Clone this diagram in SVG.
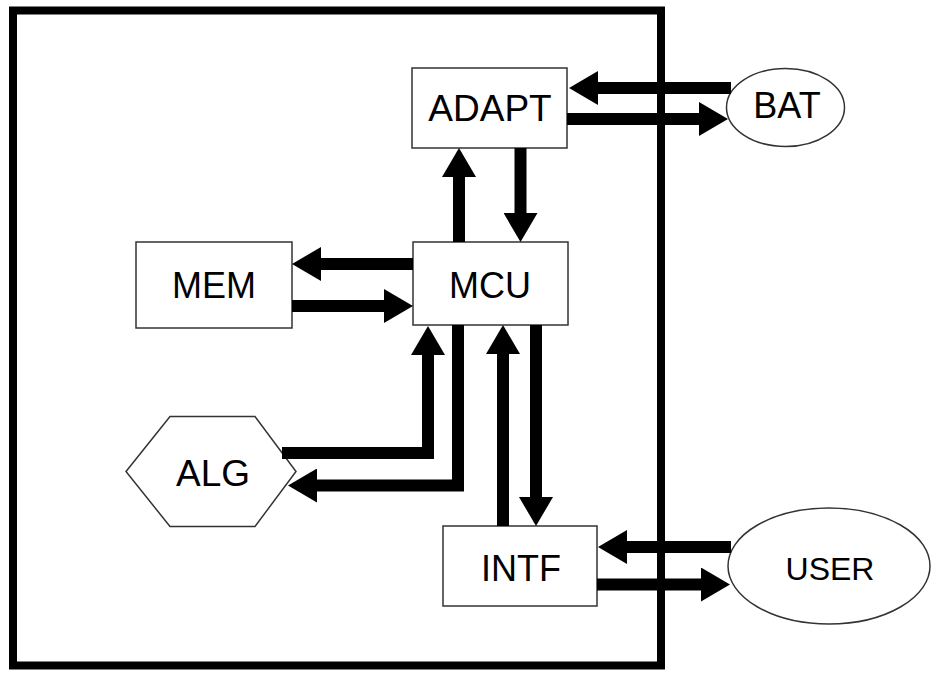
<svg xmlns="http://www.w3.org/2000/svg" width="932" height="673" viewBox="0 0 932 673">
<style>
.box{fill:#fff;stroke:#333;stroke-width:1.5}
.lbl{font-family:"Liberation Sans",Arial,sans-serif;font-size:37px;fill:#000;text-anchor:middle}
.c{fill:none;stroke:#000;stroke-width:12;stroke-linejoin:miter;stroke-linecap:butt}
</style>
<defs>
<marker id="ah" viewBox="0 0 29 34" refX="0" refY="17" markerWidth="29" markerHeight="34" markerUnits="userSpaceOnUse" orient="auto">
<path d="M0,0 L29,17 L0,34 Z" fill="#000"/>
</marker>
</defs>
<rect width="932" height="673" fill="#fff"/>
<rect id="frame" x="13" y="10.5" width="648" height="655" fill="none" stroke="#000" stroke-width="8"/>
<g id="ADAPT"><rect class="box" x="412" y="68" width="155" height="80"/><text class="lbl" x="490" y="121">ADAPT</text></g>
<g id="MCU"><rect class="box" x="413" y="242" width="155" height="83"/><text class="lbl" x="490" y="298" style="font-size:36px">MCU</text></g>
<g id="MEM"><rect class="box" x="136" y="242" width="156" height="86"/><text class="lbl" x="214" y="298" style="font-size:36px">MEM</text></g>
<g id="ALG"><polygon class="box" points="126,471.5 170,416.5 255,416.5 296,471.5 255,526.5 170,526.5"/><text class="lbl" x="213" y="486">ALG</text></g>
<g id="INTF"><rect class="box" x="443" y="526" width="154" height="80"/><text class="lbl" x="521" y="581" style="font-size:36px">INTF</text></g>
<g id="BAT"><ellipse class="box" cx="785.5" cy="107.5" rx="59" ry="39"/><text class="lbl" x="787" y="118" style="font-size:36px">BAT</text></g>
<g id="USER"><ellipse class="box" cx="829" cy="566" rx="101" ry="58"/><text class="lbl" x="830" y="580" style="font-size:32px">USER</text></g>
<g id="connectors">
<path class="c" marker-end="url(#ah)" d="M731,88 H598"/>
<path class="c" marker-end="url(#ah)" d="M567,119 H699"/>
<path class="c" marker-end="url(#ah)" d="M520.5,148 V213"/>
<path class="c" marker-end="url(#ah)" d="M459,242 V177"/>
<path class="c" marker-end="url(#ah)" d="M413,264 H321"/>
<path class="c" marker-end="url(#ah)" d="M292,306 H384"/>
<path class="c" marker-end="url(#ah)" d="M282,453 H428 V355"/>
<path class="c" marker-end="url(#ah)" d="M458,325 V485.5 H317"/>
<path class="c" marker-end="url(#ah)" d="M503,526 V354"/>
<path class="c" marker-end="url(#ah)" d="M536,325 V497"/>
<path class="c" marker-end="url(#ah)" d="M731,547 H627"/>
<path class="c" marker-end="url(#ah)" d="M597,584.5 H701"/>
</g>
</svg>
